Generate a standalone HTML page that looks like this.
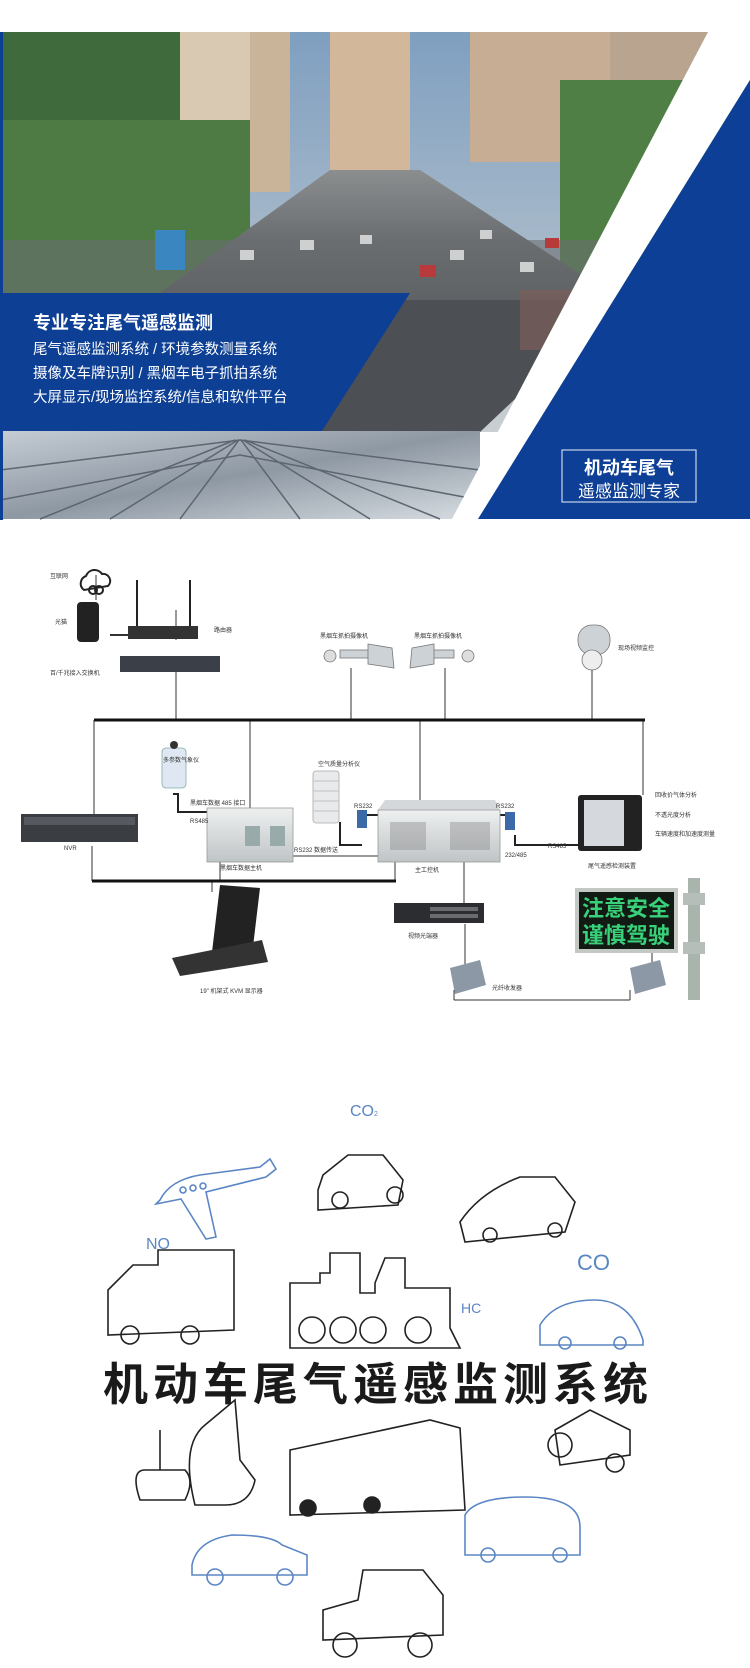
<!DOCTYPE html>
<html><head><meta charset="utf-8">
<style>
html,body{margin:0;padding:0;background:#fff;}
body{width:750px;height:1668px;position:relative;overflow:hidden;font-family:"Liberation Sans","Noto Sans CJK SC",sans-serif;}
.a{position:absolute;}
.t{font-family:"Liberation Sans","Noto Sans CJK SC",sans-serif;}
</style></head><body>
<svg class="a" style="left:0;top:0" width="750" height="1668" viewBox="0 0 750 1668">
<defs>
<linearGradient id="sky" x1="0" y1="0" x2="0" y2="1"><stop offset="0" stop-color="#7f9fc0"/><stop offset="1" stop-color="#c9cfd2"/></linearGradient>
<linearGradient id="road" x1="0" y1="0" x2="0" y2="1"><stop offset="0" stop-color="#8b8e8f"/><stop offset="1" stop-color="#4f5257"/></linearGradient>
<linearGradient id="glass" x1="0" y1="0" x2="1" y2="1"><stop offset="0" stop-color="#c5ccd4"/><stop offset="0.5" stop-color="#8e98a3"/><stop offset="1" stop-color="#d7dde2"/></linearGradient>
<linearGradient id="dev" x1="0" y1="0" x2="0" y2="1"><stop offset="0" stop-color="#eef0f0"/><stop offset="1" stop-color="#bfc4c6"/></linearGradient>
</defs>
<rect x="0" y="32" width="750" height="400" fill="url(#sky)"/>
<rect x="140" y="32" width="110" height="150" fill="#d9c9b2"/>
<rect x="250" y="32" width="40" height="160" fill="#c9b49a"/>
<rect x="330" y="32" width="80" height="150" fill="#d3b79a"/>
<rect x="470" y="32" width="140" height="130" fill="#c7ad93"/>
<rect x="610" y="32" width="110" height="100" fill="#b9a48f"/>
<rect x="0" y="32" width="180" height="260" fill="#3f6a3b"/>
<rect x="0" y="120" width="250" height="180" fill="#4d7b43"/>
<rect x="560" y="80" width="170" height="200" fill="#507f45"/>
<polygon points="150,300 330,170 420,170 620,300" fill="url(#road)"/>
<rect x="0" y="240" width="620" height="60" fill="#6b6e70" opacity="0.6"/>
<g fill="#e8e8e8" opacity="0.8"><rect x="240" y="250" width="14" height="10"/><rect x="300" y="240" width="14" height="10"/><rect x="360" y="235" width="12" height="9"/><rect x="450" y="250" width="14" height="10"/><rect x="520" y="262" width="14" height="10"/><rect x="480" y="230" width="12" height="9"/></g>
<g fill="#b83a3a"><rect x="420" y="265" width="16" height="12"/><rect x="545" y="238" width="14" height="10"/></g>
<rect x="155" y="230" width="30" height="40" fill="#3a86c0"/>
<polygon points="320,300 620,300 480,432 320,432" fill="#4c4f54"/>
<rect x="520" y="290" width="60" height="60" fill="#7a5e5a" opacity="0.7"/>
<rect x="0" y="431" width="480" height="88" fill="url(#glass)"/>
<g stroke="#5d6670" stroke-width="1.5" fill="none">
<path d="M0 470 L240 440 L480 470"/><path d="M0 500 L240 455 L480 500"/>
<path d="M40 519 L235 440"/><path d="M110 519 L238 440"/><path d="M180 519 L239 440"/><path d="M440 519 L245 440"/><path d="M370 519 L243 440"/><path d="M300 519 L241 440"/>
</g>
<polygon points="0,293 410,293 322,431 0,431" fill="#0d3f94"/>
<rect x="0" y="32" width="3" height="488" fill="#0d3f94"/>
<polygon points="708,32 750,32 750,80 478,519 452,519" fill="#fff"/>
<polygon points="750,80 750,519 478,519" fill="#0c3f95"/>
<rect x="0" y="0" width="750" height="32" fill="#fff"/>
<rect x="562" y="450" width="134" height="52" fill="none" stroke="#c8d3e8" stroke-width="1.2"/>
<text x="33" y="329" class="t" font-size="18" font-weight="bold" fill="#fff">专业专注尾气遥感监测</text>
<text x="33" y="354" class="t" font-size="14.5" fill="#fff">尾气遥感监测系统 / 环境参数测量系统</text>
<text x="33" y="378" class="t" font-size="14.5" fill="#fff">摄像及车牌识别 / 黑烟车电子抓拍系统</text>
<text x="33" y="402" class="t" font-size="14.5" fill="#fff">大屏显示/现场监控系统/信息和软件平台</text>
<text x="629" y="474" class="t" font-size="18" font-weight="bold" fill="#fff" text-anchor="middle">机动车尾气</text>
<text x="629" y="497" class="t" font-size="17" fill="#fff" text-anchor="middle">遥感监测专家</text>

<g stroke="#333" stroke-width="1" fill="none">
<line x1="176" y1="672" x2="176" y2="720"/>
<line x1="94" y1="720" x2="94" y2="814"/>
<line x1="250" y1="720" x2="250" y2="808"/>
<line x1="351" y1="668" x2="351" y2="720"/>
<line x1="445" y1="668" x2="445" y2="720"/>
<line x1="420" y1="720" x2="420" y2="800"/>
<line x1="592" y1="668" x2="592" y2="720"/>
<line x1="643" y1="720" x2="643" y2="795"/>
<line x1="92" y1="846" x2="92" y2="881"/>
<line x1="220" y1="862" x2="220" y2="881"/>
<line x1="395" y1="862" x2="395" y2="881"/>
<line x1="212" y1="881" x2="212" y2="892"/>
<line x1="292" y1="856" x2="385" y2="856"/>
<line x1="464" y1="862" x2="464" y2="904"/>
<line x1="465" y1="924" x2="465" y2="965"/>
<line x1="454" y1="990" x2="454" y2="1000"/><line x1="454" y1="1000" x2="630" y2="1000"/><line x1="630" y1="990" x2="630" y2="1000"/>
<line x1="652" y1="953" x2="652" y2="968"/>
<line x1="176" y1="610" x2="176" y2="640"/>
<line x1="110" y1="635" x2="130" y2="635" stroke-width="2"/>
<line x1="96" y1="575" x2="96" y2="600"/>
</g>
<line x1="94" y1="720" x2="645" y2="720" stroke="#111" stroke-width="3"/>
<line x1="92" y1="881" x2="396" y2="881" stroke="#111" stroke-width="3"/>
<g stroke="#222" stroke-width="2" fill="none"><path d="M173 794 L178 794 L178 812 L207 812"/><path d="M340 822 L340 845 L362 845"/><path d="M363 815 L378 815"/><path d="M500 815 L515 815"/><path d="M515 835 L515 845 L580 845"/></g>
<path d="M84 590 a8 8 0 0 1 2-14 a9 9 0 0 1 16-2 a7 7 0 0 1 6 12 z" fill="none" stroke="#222" stroke-width="2"/>
<circle cx="93" cy="590" r="4" fill="none" stroke="#222" stroke-width="2"/><circle cx="99" cy="590" r="4" fill="none" stroke="#222" stroke-width="2"/>
<rect x="77" y="602" width="22" height="40" rx="4" fill="#222"/>
<line x1="137" y1="580" x2="137" y2="626" stroke="#222" stroke-width="2"/><line x1="190" y1="580" x2="190" y2="626" stroke="#222" stroke-width="2"/>
<rect x="128" y="626" width="70" height="13" fill="#333"/>
<rect x="120" y="656" width="100" height="16" fill="#3b4048"/>
<g fill="#ccd2d6" stroke="#777" stroke-width="0.8">
<rect x="340" y="650" width="32" height="8"/><polygon points="368,644 392,648 394,668 368,664"/><circle cx="330" cy="656" r="6" fill="#ddd"/>
<rect x="422" y="650" width="32" height="8"/><polygon points="412,648 434,644 434,664 410,668"/><circle cx="468" cy="656" r="6" fill="#ddd"/>
<rect x="578" y="625" width="32" height="30" rx="14"/><circle cx="592" cy="660" r="10" fill="#eee"/>
</g>
<rect x="21" y="814" width="117" height="28" fill="#3a3d42"/><rect x="24" y="817" width="111" height="8" fill="#565a60"/>
<rect x="162" y="748" width="24" height="40" rx="4" fill="#dfe8f2" stroke="#8aa" stroke-width="0.8"/><circle cx="174" cy="745" r="4" fill="#333"/>
<rect x="207" y="808" width="86" height="54" fill="url(#dev)" stroke="#999" stroke-width="0.8"/><rect x="245" y="826" width="15" height="20" fill="#9aa"/><rect x="270" y="826" width="15" height="20" fill="#9aa"/>
<rect x="313" y="771" width="26" height="52" rx="3" fill="#e8eaec" stroke="#aaa" stroke-width="0.8"/>
<g stroke="#c0c4c8"><line x1="313" y1="781" x2="339" y2="781"/><line x1="313" y1="791" x2="339" y2="791"/><line x1="313" y1="801" x2="339" y2="801"/><line x1="313" y1="811" x2="339" y2="811"/></g>
<rect x="357" y="810" width="10" height="18" fill="#3c6aa8"/><rect x="505" y="812" width="10" height="18" fill="#3c6aa8"/>
<polygon points="385,800 495,800 500,810 378,810" fill="#d5d8da"/>
<rect x="378" y="810" width="122" height="52" fill="url(#dev)" stroke="#999" stroke-width="0.8"/>
<g fill="#888"><rect x="390" y="822" width="36" height="28" opacity="0.4"/><rect x="450" y="822" width="40" height="28" opacity="0.4"/></g>
<rect x="578" y="795" width="64" height="56" rx="3" fill="#222"/><rect x="584" y="800" width="40" height="46" fill="#d5d8dc"/>
<polygon points="220,885 260,888 252,955 212,952" fill="#222"/>
<polygon points="172,958 262,940 268,962 180,976" fill="#333"/>
<rect x="394" y="903" width="90" height="20" fill="#2b2d31"/>
<g fill="#aaa"><rect x="430" y="907" width="48" height="4" opacity="0.5"/><rect x="430" y="914" width="48" height="4" opacity="0.5"/></g>
<polygon points="450,968 480,960 486,985 455,994" fill="#8d98a6"/>
<polygon points="630,968 660,960 666,985 635,994" fill="#8d98a6"/>
<rect x="688" y="878" width="12" height="122" fill="#a9b4ac"/>
<rect x="683" y="893" width="22" height="12" fill="#b5beb8"/><rect x="683" y="942" width="22" height="12" fill="#b5beb8"/>
<rect x="575" y="888" width="103" height="65" fill="#c3c8c4"/><rect x="579" y="892" width="95" height="57" fill="#111b14"/>
<text x="626" y="916" class="t" font-size="22" font-weight="bold" fill="#39d07a" text-anchor="middle">注意安全</text>
<text x="626" y="943" class="t" font-size="22" font-weight="bold" fill="#39d07a" text-anchor="middle">谨慎驾驶</text>
<g class="t" font-size="6" fill="#333">
<text x="50" y="578">互联网</text><text x="55" y="624">光猫</text><text x="214" y="632">路由器</text><text x="50" y="675">百/千兆接入交换机</text>
<text x="320" y="638">黑烟车抓拍摄像机</text><text x="414" y="638">黑烟车抓拍摄像机</text><text x="618" y="650">现场视频监控</text>
<text x="163" y="762">多参数气象仪</text><text x="190" y="805">黑烟车数据 485 接口</text><text x="190" y="823">RS485</text>
<text x="318" y="766">空气质量分析仪</text><text x="354" y="808">RS232</text><text x="496" y="808">RS232</text><text x="548" y="848">RS485</text>
<text x="294" y="852">RS232 数据传送</text><text x="220" y="870">黑烟车数据主机</text><text x="415" y="872">主工控机</text><text x="505" y="857">232/485</text>
<text x="655" y="797">回收价气体分析</text><text x="655" y="817">不透光度分析</text><text x="655" y="836">车辆速度和加速度测量</text><text x="588" y="868">尾气遥感检测装置</text>
<text x="64" y="850">NVR</text><text x="408" y="938">视频光端器</text><text x="492" y="990">光纤收发器</text><text x="200" y="993">19" 机架式 KVM 显示器</text>
</g>

<g font-family="Liberation Sans,sans-serif" fill="#5b86c4" font-size="16">
<text x="350" y="1116">CO<tspan font-size="7">2</tspan></text><text x="146" y="1249">NO</text><text x="577" y="1270" font-size="22">CO</text><text x="461" y="1313" font-size="14">HC</text>
</g>
<g fill="none" stroke="#5b86c4" stroke-width="1.6">
<path d="M160 1200 q10 -20 40 -25 l60 -8 l10 -8 l6 10 l-10 8 l-60 15 l10 45 l-10 2 l-25 -40 l-25 5 z"/>
<circle cx="183" cy="1190" r="3"/><circle cx="193" cy="1188" r="3"/><circle cx="203" cy="1186" r="3"/>
<path d="M540 1345 l0 -20 q15 -25 55 -25 q35 0 48 40 l0 5 z"/><circle cx="565" cy="1343" r="6"/><circle cx="620" cy="1343" r="6"/>
<path d="M465 1555 l0 -40 q10 -18 60 -18 q55 0 55 30 l0 28 z"/><circle cx="488" cy="1555" r="7"/><circle cx="560" cy="1555" r="7"/>
<path d="M192 1565 q5 -25 40 -30 q40 0 50 10 l25 10 l0 20 l-115 0 z"/><circle cx="215" cy="1577" r="8"/><circle cx="285" cy="1577" r="8"/>
</g>
<g fill="none" stroke="#222" stroke-width="1.6">
<path d="M318 1190 l5 -15 l25 -20 l35 0 l20 25 l-5 25 l-80 5 z"/><circle cx="340" cy="1200" r="8"/><circle cx="395" cy="1195" r="8"/>
<path d="M460 1222 q20 -30 60 -45 l35 0 l20 25 l-10 30 l-100 10 z"/><circle cx="490" cy="1235" r="7"/><circle cx="555" cy="1230" r="7"/>
<path d="M108 1335 l0 -45 l25 -25 l25 0 l0 -15 l76 0 l0 80 l-126 5 z"/><circle cx="130" cy="1335" r="9"/><circle cx="190" cy="1335" r="9"/>
<path d="M290 1323 l0 -40 l30 0 l0 -10 l10 0 l0 -20 l30 0 l0 40 l15 0 l0 -10 l10 -25 l20 0 l0 30 l45 0 l0 40 l10 20 l-170 0 z"/>
<circle cx="312" cy="1330" r="13"/><circle cx="343" cy="1330" r="13"/><circle cx="373" cy="1330" r="13"/><circle cx="418" cy="1330" r="13"/>
<path d="M140 1500 q-10 -30 5 -30 l40 0 q10 10 0 30 z M160 1470 l0 -40"/>
<path d="M195 1505 q-15 -60 10 -80 l30 -25 l5 60 l15 20 q-5 25 -30 25 z"/>
<path d="M290 1510 l0 -60 l140 -30 l30 8 l5 82 l-175 5 z"/><circle cx="308" cy="1508" r="8" fill="#222"/><circle cx="372" cy="1505" r="8" fill="#222"/>
<path d="M555 1430 l35 -20 l40 20 l0 25 l-70 10 z"/><circle cx="560" cy="1445" r="12"/><circle cx="615" cy="1463" r="9"/>
<path d="M323 1640 l0 -30 l35 -10 l5 -30 l60 0 l20 25 l0 40 z"/><circle cx="345" cy="1645" r="12"/><circle cx="420" cy="1645" r="12"/>
</g>
<text x="378" y="1400" class="t" font-size="45" font-weight="bold" fill="#1a1a1a" text-anchor="middle" letter-spacing="5">机动车尾气遥感监测系统</text>
</svg>
</body></html>
